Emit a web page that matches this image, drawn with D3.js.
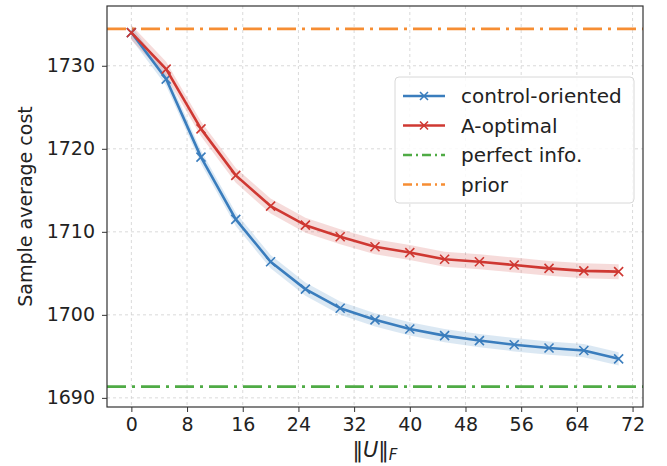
<!DOCTYPE html>
<html>
<head>
<meta charset="utf-8">
<script src="https://cdn.jsdelivr.net/npm/d3@7"></script>
<style>
  body { margin: 0; background: #fff; }
  text { font-family: "DejaVu Sans", sans-serif; fill: #222; }
</style>
</head>
<body>
<div id="chart"></div>
<script>
// Data
const normU = [0, 5, 10, 15, 20, 25, 30, 35, 40, 45, 50, 55, 60, 65, 70];
const controlMean = [1734.0, 1728.4, 1719.0, 1711.5, 1706.4, 1703.1, 1700.8, 1699.4, 1698.3, 1697.5, 1696.9, 1696.4, 1696.0, 1695.7, 1694.7];
const controlErr = [0.8, 0.8, 0.8, 0.8, 0.8, 0.8, 0.8, 0.8, 0.8, 0.8, 0.8, 0.8, 0.8, 0.8, 0.8];
const aOptMean = [1734.0, 1729.6, 1722.4, 1716.8, 1713.1, 1710.8, 1709.4, 1708.2, 1707.5, 1706.7, 1706.4, 1706.0, 1705.6, 1705.3, 1705.2];
const aOptErr = [0.9, 0.9, 0.9, 0.9, 0.9, 0.9, 0.9, 0.9, 0.9, 0.9, 0.9, 0.9, 0.9, 0.9, 0.9];
const perfectInfo = 1691.35;
const priorCost = 1734.45;
const xTicks = [0, 8, 16, 24, 32, 40, 48, 56, 64, 72];
const yTicks = [1690, 1700, 1710, 1720, 1730];

const colors = { control: "#3a7dbd", aopt: "#cf3832", perfect: "#4fab45", prior: "#f68d33" };

function drawChart() {
    const W = 667, H = 466;
    const margin = { top: 6, right: 24, bottom: 59, left: 107 };
    const width = W - margin.left - margin.right;
    const height = H - margin.top - margin.bottom;

    const svg = d3.select("#chart").append("svg")
        .attr("width", W)
        .attr("height", H);

    const g = svg.append("g")
        .attr("transform", `translate(${margin.left}, ${margin.top})`);

    const x = d3.scaleLinear().domain([-3.5, 73.5]).range([0, width]);
    const y = d3.scaleLinear().domain([1688.9, 1737.2]).range([height, 0]);

    // Grid
    g.append("g").selectAll("line")
        .data(xTicks)
        .enter().append("line")
        .attr("x1", d => x(d)).attr("x2", d => x(d))
        .attr("y1", 0).attr("y2", height)
        .attr("stroke", "#d0d0d0").attr("stroke-width", 0.8)
        .attr("stroke-dasharray", "3,3");
    g.append("g").selectAll("line")
        .data(yTicks)
        .enter().append("line")
        .attr("x1", 0).attr("x2", width)
        .attr("y1", d => y(d)).attr("y2", d => y(d))
        .attr("stroke", "#d0d0d0").attr("stroke-width", 0.8)
        .attr("stroke-dasharray", "3,3");

    // Horizontal references
    const hlines = [
        { v: perfectInfo, c: colors.perfect },
        { v: priorCost, c: colors.prior }
    ];
    g.append("g").selectAll("line")
        .data(hlines)
        .enter().append("line")
        .attr("x1", 0).attr("x2", width)
        .attr("y1", d => y(d.v)).attr("y2", d => y(d.v))
        .attr("stroke", d => d.c).attr("stroke-width", 2.6)
        .attr("stroke-dasharray", "19,6,3,6");

    const series = [
        { name: "control-oriented", mean: controlMean, err: controlErr, c: colors.control },
        { name: "A-optimal", mean: aOptMean, err: aOptErr, c: colors.aopt }
    ];

    const area = d3.area()
        .x((d, i) => x(normU[i]))
        .y0((d, i) => y(d.m - d.e))
        .y1((d, i) => y(d.m + d.e));
    const line = d3.line()
        .x((d, i) => x(normU[i]))
        .y(d => y(d.m));

    series.forEach(s => {
        const pts = s.mean.map((m, i) => ({ m: m, e: s.err[i] }));
        g.append("path")
            .datum(pts)
            .attr("d", area)
            .attr("fill", s.c)
            .attr("fill-opacity", 0.18);
    });

    series.forEach(s => {
        const pts = s.mean.map((m, i) => ({ m: m, e: s.err[i] }));
        g.append("path")
            .datum(pts)
            .attr("d", line)
            .attr("fill", "none")
            .attr("stroke", s.c)
            .attr("stroke-width", 2.6)
            .attr("stroke-linejoin", "round");
        g.append("g").selectAll("path")
            .data(pts)
            .enter().append("path")
            .attr("transform", (d, i) => `translate(${x(normU[i])}, ${y(d.m)})`)
            .attr("d", "M-4.5,-4.5L4.5,4.5M-4.5,4.5L4.5,-4.5")
            .attr("stroke", s.c)
            .attr("stroke-width", 1.6);
    });

    // Axes
    const xAxis = g.append("g")
        .attr("transform", `translate(0, ${height})`)
        .call(d3.axisBottom(x).tickValues(xTicks).tickSize(5).tickPadding(6));
    const yAxis = g.append("g")
        .call(d3.axisLeft(y).tickValues(yTicks).tickSize(5).tickPadding(7).tickFormat(d3.format("d")));
    [xAxis, yAxis].forEach(a => {
        a.select(".domain").remove();
        a.selectAll("line").attr("stroke", "#333").attr("stroke-width", 1);
        a.selectAll("text").style("font-size", "19px").style("font-family", "DejaVu Sans").attr("fill", "#222");
    });

    // Frame
    g.append("rect")
        .attr("width", width).attr("height", height)
        .attr("fill", "none").attr("stroke", "#333").attr("stroke-width", 1.2);

    // Axis labels
    const xl = svg.append("text")
        .attr("x", margin.left + width / 2)
        .attr("y", 457)
        .style("text-anchor", "middle")
        .style("font-size", "21px");
    xl.append("tspan").text("\u2016");
    xl.append("tspan").style("font-style", "italic").text("U");
    xl.append("tspan").text("\u2016");
    xl.append("tspan").style("font-style", "italic").style("font-size", "15px").attr("dy", 3).text("F");

    svg.append("text")
        .attr("transform", `translate(32, ${margin.top + height / 2}) rotate(-90)`)
        .style("text-anchor", "middle")
        .style("font-size", "19px")
        .text("Sample average cost");

    // Legend
    const legend = svg.append("g")
        .attr("transform", "translate(395, 77)");
    legend.append("rect")
        .attr("width", 239).attr("height", 126)
        .attr("rx", 4)
        .attr("fill", "#fff").attr("fill-opacity", 0.85)
        .attr("stroke", "#d8d8d8");
    const entries = [
        { name: "control-oriented", c: colors.control, marker: true, dash: null },
        { name: "A-optimal", c: colors.aopt, marker: true, dash: null },
        { name: "perfect info.", c: colors.perfect, marker: false, dash: "9,4,2,4" },
        { name: "prior", c: colors.prior, marker: false, dash: "9,4,2,4" }
    ];
    const items = legend.selectAll(".item")
        .data(entries)
        .enter().append("g")
        .attr("transform", (d, i) => `translate(0, ${19 + i * 29.5})`);
    items.append("line")
        .attr("x1", 8).attr("x2", 50)
        .attr("stroke", d => d.c).attr("stroke-width", 2.6)
        .attr("stroke-dasharray", d => d.dash);
    items.filter(d => d.marker).append("path")
        .attr("transform", "translate(29, 0)")
        .attr("d", "M-4,-4L4,4M-4,4L4,-4")
        .attr("stroke", d => d.c).attr("stroke-width", 1.6);
    items.append("text")
        .attr("x", 66).attr("dy", "0.35em")
        .style("font-size", "20px")
        .text(d => d.name);
}

drawChart();
</script>
</body>
</html>
